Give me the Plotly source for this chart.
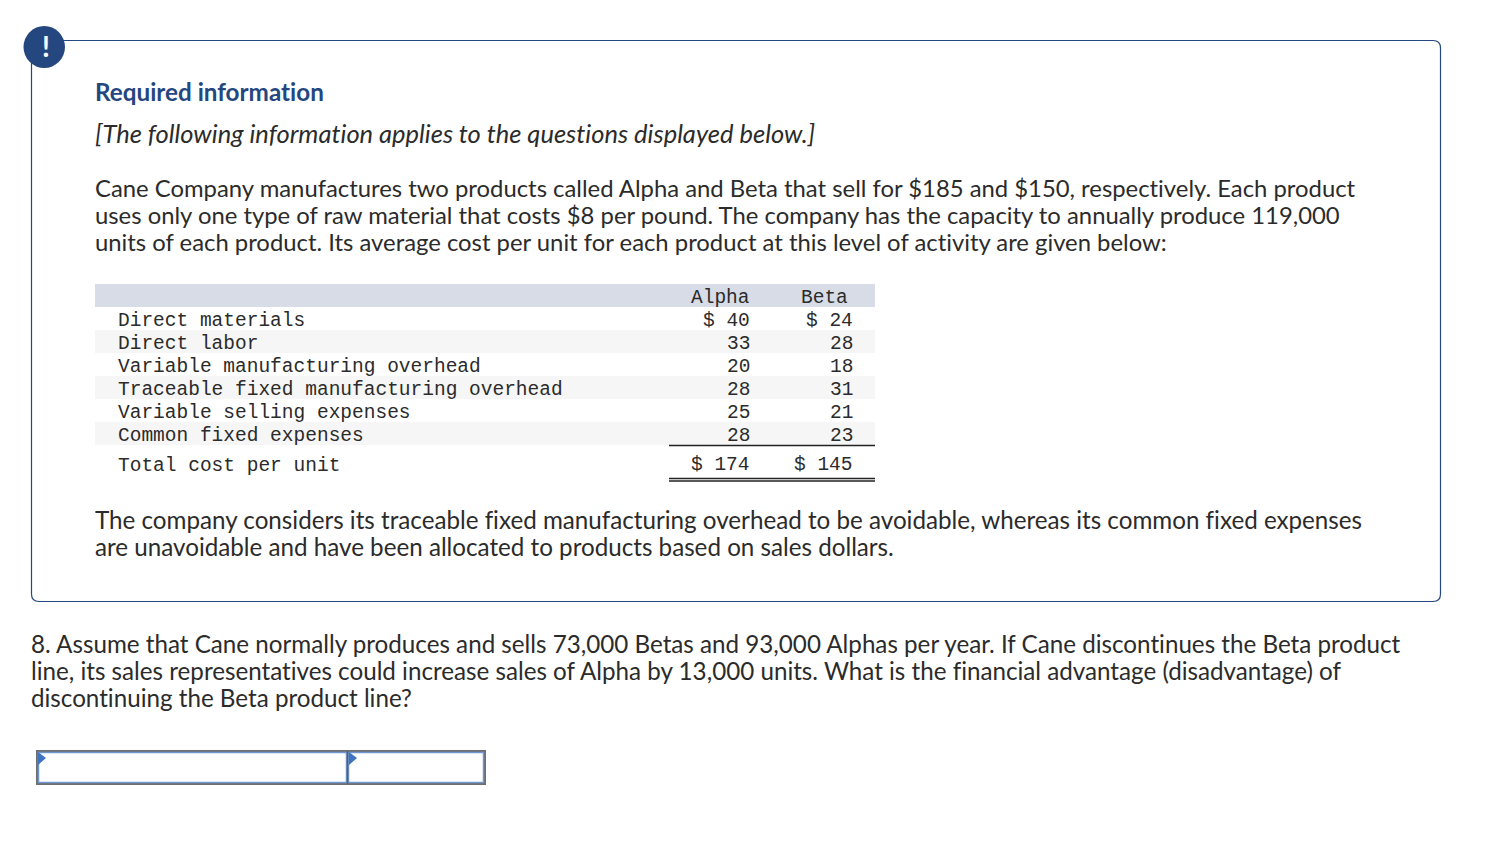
import plotly.graph_objects as go

# page text
heading = "Required information"
note = "[The following information applies to the questions displayed below.]"
intro = [
    "Cane Company manufactures two products called Alpha and Beta that sell for $185 and $150, respectively. Each product",
    "uses only one type of raw material that costs $8 per pound. The company has the capacity to annually produce 119,000",
    "units of each product. Its average cost per unit for each product at this level of activity are given below:",
]
after = [
    "The company considers its traceable fixed manufacturing overhead to be avoidable, whereas its common fixed expenses",
    "are unavoidable and have been allocated to products based on sales dollars.",
]
question = [
    "8. Assume that Cane normally produces and sells 73,000 Betas and 93,000 Alphas per year. If Cane discontinues the Beta product",
    "line, its sales representatives could increase sales of Alpha by 13,000 units. What is the financial advantage (disadvantage) of",
    "discontinuing the Beta product line?",
]

# cost table
products = ["Alpha", "Beta"]
cost_items = ["Direct materials", "Direct labor", "Variable manufacturing overhead",
              "Traceable fixed manufacturing overhead", "Variable selling expenses",
              "Common fixed expenses"]
alpha_costs = [40, 33, 20, 28, 25, 28]
beta_costs = [24, 28, 18, 31, 21, 23]
total_label = "Total cost per unit"
alpha_total = 174
beta_total = 145

NAVY = "#24477f"
BODY = "#2b2b2b"
SANS = "Lato"
MONO = "Liberation Mono"
SANS_SIZE = 24
MONO_SIZE = 19.5

fig = go.Figure()
notes = []
shapes = []


def text(x, y, s, font=SANS, size=SANS_SIZE, color=BODY, anchor="left"):
    # annotations sit a little off their anchor, pull them back
    dx = {"left": -2, "right": 2.6, "center": 0}[anchor]
    dy = 2 if font == MONO else -1
    notes.append(dict(x=x + dx, y=y + dy, text=s, showarrow=False, xanchor=anchor, yanchor="middle",
                      xref="x", yref="y", align=anchor,
                      font=dict(family=font, size=size, color=color)))


def rect(x0, y0, x1, y1, fill, line=None, width=0):
    shapes.append(dict(type="rect", x0=x0, y0=y0, x1=x1, y1=y1, fillcolor=fill,
                       line=dict(color=line or fill, width=width), layer="below"))


def rule(x0, x1, y, color="#222222", width=1.3):
    shapes.append(dict(type="line", x0=x0, x1=x1, y0=y, y1=y, line=dict(color=color, width=width)))


# outer rounded box
shapes.append(dict(type="path", layer="below", line=dict(color=NAVY, width=1.2),
                   path="M 39 40.5 L 1433 40.5 Q 1440.5 40.5 1440.5 48 L 1440.5 594 Q 1440.5 601.5 1433 601.5 "
                        "L 39 601.5 Q 31.5 601.5 31.5 594 L 31.5 48 Q 31.5 40.5 39 40.5 Z"))
shapes.append(dict(type="circle", x0=23.5, x1=65, y0=26, y1=68, fillcolor=NAVY, line=dict(color=NAVY, width=0)))
text(46, 47, "<b>!</b>", size=28, color="white", anchor="center")

text(95, 92.5, "<b>" + heading + "</b>", size=24.25, color=NAVY)
text(95, 134, "<i>" + note + "</i>", size=25.5)
for i, line in enumerate(intro):
    text(95, 188 + i * 27, line, size=23.85)
for i, line in enumerate(after):
    text(95, 520.5 + i * 27, line, size=24.2)
for i, line in enumerate(question):
    text(31, 644.5 + i * 27, line, size=24.2)

# table bands
rect(95, 284, 875, 307, "#d7dce6")
for top in [330, 376, 422]:
    rect(95, top, 875, top + 23, "#f6f6f6")

text(749, 296, products[0], MONO, MONO_SIZE, anchor="right")
text(847, 296, products[1], MONO, MONO_SIZE, anchor="right")
row_y = [319, 342, 365, 388, 411, 434]
for i, item in enumerate(cost_items):
    text(117.5, row_y[i], item, MONO, MONO_SIZE)
    a = str(alpha_costs[i])
    b = str(beta_costs[i])
    if i == 0:
        a, b = "$ " + a, "$ " + b
    text(749, row_y[i], a, MONO, MONO_SIZE, anchor="right")
    text(852, row_y[i], b, MONO, MONO_SIZE, anchor="right")
text(117.5, 464, total_label, MONO, MONO_SIZE)
text(749, 463, "$ " + str(alpha_total), MONO, MONO_SIZE, anchor="right")
text(852, 463, "$ " + str(beta_total), MONO, MONO_SIZE, anchor="right")
rule(669, 875, 445.5)
rule(669, 875, 478.5)
rule(669, 875, 481)

# answer boxes
rect(37, 751, 485, 784, "white", "#6e6e6e", 2)
rect(38.5, 752.5, 346.5, 782.5, "white", "#6f97cf", 1.5)
rect(348.5, 752.5, 483.5, 782.5, "white", "#6f97cf", 1.5)
shapes.append(dict(type="line", x0=347.5, x1=347.5, y0=751, y1=784, line=dict(color="#5a5f6a", width=1.5)))
for x in [38, 349]:
    shapes.append(dict(type="path", path=f"M {x} 752 L {x + 8} 758 L {x} 765 Z", fillcolor="#3f74c0",
                       line=dict(color="#3f74c0", width=0)))

fig.update_layout(
    width=1494, height=854,
    margin=dict(l=0, r=0, t=0, b=0),
    paper_bgcolor="white", plot_bgcolor="white",
    showlegend=False,
    annotations=notes, shapes=shapes,
    xaxis=dict(range=[0, 1494], visible=False, fixedrange=True),
    yaxis=dict(range=[854, 0], visible=False, fixedrange=True),
)
# body margin off, and no fi/ti ligatures (the reference font has none)
post = ("document.body.style.margin='0';document.body.style.overflow='hidden';"
        "var s=document.createElement('style');"
        "s.textContent='svg text{font-variant-ligatures:none !important;font-feature-settings:\"liga\" 0,\"clig\" 0 !important}';"
        "document.head.appendChild(s);")
fig.write_html("out.html", post_script=post, config=dict(displayModeBar=False))
